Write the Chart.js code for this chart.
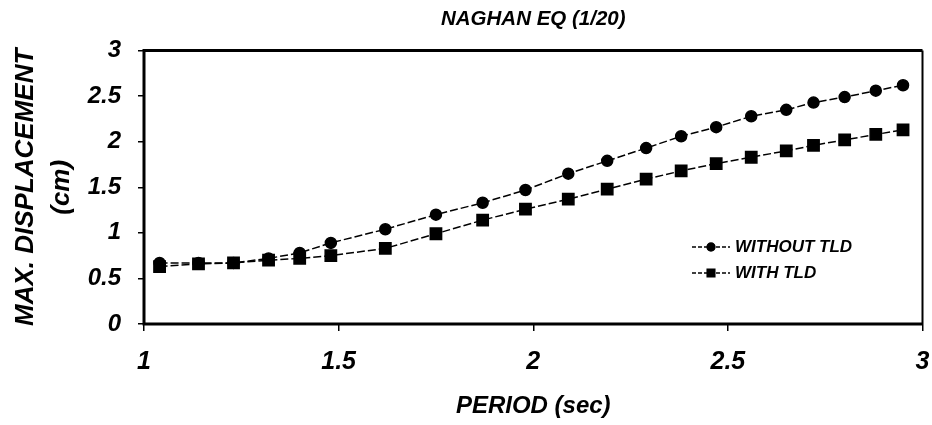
<!DOCTYPE html>
<html>
<head>
<meta charset="utf-8">
<title>NAGHAN EQ (1/20)</title>
<script src="https://cdn.jsdelivr.net/npm/chart.js@4.4.1/dist/chart.umd.min.js"></script>
<style>
  html, body { margin: 0; padding: 0; background: #fff; }
  #wrap { width: 932px; height: 425px; }
</style>
</head>
<body>
<div id="wrap"><canvas id="chart" width="932" height="425"></canvas></div>
<script>
// values
var periods = [1.04, 1.14, 1.23, 1.32, 1.40, 1.48, 1.62, 1.75, 1.87, 1.98, 2.09, 2.19, 2.29, 2.38, 2.47, 2.56, 2.65, 2.72, 2.80, 2.88, 2.95];
var withoutTLD = [0.67, 0.67, 0.67, 0.72, 0.78, 0.89, 1.04, 1.20, 1.33, 1.47, 1.65, 1.79, 1.93, 2.06, 2.16, 2.28, 2.35, 2.43, 2.49, 2.56, 2.62];
var withTLD = [0.63, 0.66, 0.67, 0.70, 0.72, 0.75, 0.83, 0.99, 1.14, 1.26, 1.37, 1.48, 1.59, 1.68, 1.76, 1.83, 1.90, 1.96, 2.02, 2.08, 2.13];
var seriesNames = ["WITHOUT TLD", "WITH TLD"];
var titleText = "NAGHAN EQ (1/20)";
var xTitle = "PERIOD (sec)";
var yTitle = ["MAX. DISPLACEMENT", "(cm)"];

var FONT = "'Liberation Sans', Arial, Helvetica, sans-serif";

function toPoints(xs, ys) {
  return xs.map(function (x, i) { return { x: x, y: ys[i] }; });
}

// "1", "1.5", "2" ... like the original, no trailing zero
function plainTick(value) {
  return String(Math.round(value * 10) / 10);
}

// box round the plot area
var framePlugin = {
  id: 'frame',
  beforeDatasetsDraw: function (chart) {
    var a = chart.chartArea, ctx = chart.ctx;
    ctx.save();
    ctx.strokeStyle = '#000';
    ctx.lineWidth = 3;
    ctx.beginPath();
    ctx.moveTo(a.right, a.top);
    ctx.lineTo(a.left, a.top);
    ctx.lineTo(a.left, a.bottom);
    ctx.lineTo(a.right, a.bottom);
    ctx.stroke();
    ctx.lineWidth = 2;
    ctx.beginPath();
    ctx.moveTo(a.right, a.top);
    ctx.lineTo(a.right, a.bottom);
    ctx.stroke();
    ctx.restore();
  }
};

// legend sits inside the plot, lower right
var innerLegend = {
  id: 'innerLegend',
  afterDraw: function (chart) {
    var ctx = chart.ctx;
    var rows = [247, 273];
    ctx.save();
    chart.data.datasets.forEach(function (ds, i) {
      var y = rows[i];
      ctx.strokeStyle = '#000';
      ctx.lineWidth = 1.3;
      ctx.setLineDash([4, 2]);
      ctx.beginPath();
      ctx.moveTo(692, y);
      ctx.lineTo(730, y);
      ctx.stroke();
      ctx.setLineDash([]);
      ctx.fillStyle = '#000';
      Chart.helpers.drawPoint(ctx, { pointStyle: ds.pointStyle, radius: i == 0 ? 4 : 5.5, borderWidth: 1 }, 711, y);
      ctx.fill();
      ctx.font = 'italic bold 17px ' + FONT;
      ctx.textBaseline = 'middle';
      ctx.textAlign = 'left';
      ctx.fillText(ds.label, 735, y);
    });
    ctx.restore();
  }
};

new Chart(document.getElementById('chart'), {
  type: 'line',
  data: {
    datasets: [{
      label: seriesNames[0],
      data: toPoints(periods, withoutTLD),
      borderColor: '#000',
      backgroundColor: '#000',
      borderWidth: 1.5,
      borderDash: [8, 3],
      pointStyle: 'circle',
      pointRadius: 5.5,
      pointBackgroundColor: '#000',
      pointBorderColor: '#000',
      tension: 0
    }, {
      label: seriesNames[1],
      data: toPoints(periods, withTLD),
      borderColor: '#000',
      backgroundColor: '#000',
      borderWidth: 1.5,
      borderDash: [8, 3],
      pointStyle: 'rect',
      pointRadius: 8,
      pointBackgroundColor: '#000',
      pointBorderColor: '#000',
      tension: 0
    }]
  },
  options: {
    responsive: false,
    animation: false,
    layout: { padding: { top: 0, right: 7, bottom: 0, left: 0 } },
    plugins: {
      legend: { display: false },
      tooltip: { enabled: false },
      title: {
        display: true,
        text: titleText,
        fullSize: false,
        color: '#000',
        font: { family: FONT, size: 20.5, weight: 'bold', style: 'italic' },
        padding: { top: 7, bottom: 19 }
      }
    },
    scales: {
      x: {
        type: 'linear',
        min: 1,
        max: 3,
        afterFit: function (scale) {
          scale.height = 101;
          scale.paddingLeft = 0;
          scale.paddingRight = 0;
        },
        border: { display: false },
        grid: { drawOnChartArea: false, drawTicks: true, tickLength: 7, color: '#000', lineWidth: 1.5 },
        ticks: {
          stepSize: 0.5,
          autoSkip: false,
          maxRotation: 0,
          color: '#000',
          padding: 16,
          callback: plainTick,
          font: { family: FONT, size: 25, weight: 'bold', style: 'italic' }
        },
        title: {
          display: true,
          text: xTitle,
          color: '#000',
          font: { family: FONT, size: 24, weight: 'bold', style: 'italic' },
          padding: { top: 0, bottom: 4 }
        }
      },
      y: {
        min: 0,
        max: 3,
        afterFit: function (scale) {
          scale.width = 144;
          scale.paddingTop = 0;
          scale.paddingBottom = 0;
        },
        border: { display: false },
        grid: { drawOnChartArea: false, drawTicks: true, tickLength: 6, color: '#000', lineWidth: 1.5 },
        ticks: {
          stepSize: 0.5,
          autoSkip: false,
          color: '#000',
          padding: 17,
          callback: plainTick,
          font: { family: FONT, size: 24, weight: 'bold', style: 'italic' }
        },
        title: {
          display: true,
          text: yTitle,
          color: '#000',
          font: { family: FONT, size: 26, weight: 'bold', style: 'italic', lineHeight: 1.385 },
          padding: { top: 8, bottom: 0 }
        }
      }
    }
  },
  plugins: [framePlugin, innerLegend]
});
</script>
</body>
</html>
